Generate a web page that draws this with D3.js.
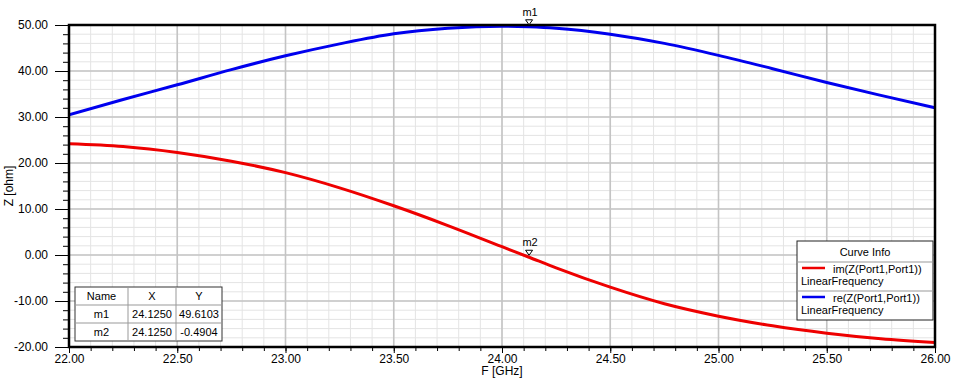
<!DOCTYPE html>
<html>
<head>
<meta charset="utf-8">
<script src="https://cdn.jsdelivr.net/npm/d3@7"></script>
<style>
  body { margin: 0; background: #fff; }
  svg { display: block; font-family: "Liberation Sans", Arial, sans-serif; }
  .grid-minor line { stroke: #e4e4e4; }
  .grid-major line { stroke: #c4c4c4; stroke-width: 1.6; }
  .axis text { font-size: 12px; fill: #000; }
  .axis line { stroke: #000; }
  .axis path { display: none; }
</style>
</head>
<body>
<svg id="chart" width="953" height="382"></svg>
<script>
// frequency sweep (GHz)
const freq = [22.00, 22.25, 22.50, 22.75, 23.00, 23.25, 23.50, 23.75, 24.00, 24.125,
              24.25, 24.50, 24.75, 25.00, 25.25, 25.50, 25.75, 26.00];
// re(Z(Port1,Port1)) in ohm
const reZ = [30.5, 33.8, 37.0, 40.3, 43.3, 45.9, 48.1, 49.3, 49.75, 49.61,
             49.3, 48.0, 46.0, 43.4, 40.5, 37.5, 34.7, 32.0];
// im(Z(Port1,Port1)) in ohm
const imZ = [24.2, 23.6, 22.3, 20.4, 17.9, 14.6, 10.7, 6.4, 1.8, -0.4904,
             -2.8, -7.0, -10.6, -13.3, -15.4, -17.0, -18.2, -19.0];

const series = [
  {name: "im(Z(Port1,Port1))", sweep: "LinearFrequency", values: imZ, color: "#ee0000"},
  {name: "re(Z(Port1,Port1))", sweep: "LinearFrequency", values: reZ, color: "#0000ee"}
];

const markerNames = ["m1", "m2"];
const markerX = [24.1250, 24.1250];
const markerY = [49.6103, -0.4904];

const xTickMajor = [22.0, 22.5, 23.0, 23.5, 24.0, 24.5, 25.0, 25.5, 26.0];
const yTickMajor = [-20, -10, 0, 10, 20, 30, 40, 50];

const svg = d3.select("#chart");
const W = +svg.attr("width"), H = +svg.attr("height");
const plot = {left: 69, top: 25, right: 935, bottom: 347};

const x = d3.scaleLinear().domain([22, 26]).range([plot.left, plot.right]);
const y = d3.scaleLinear().domain([-20, 50]).range([plot.bottom, plot.top]);

const xMinor = d3.range(0, 41).map(i => 22 + i * 0.1);
const yMinor = d3.range(0, 36).map(i => -20 + i * 2);

svg.append("rect").attr("width", W).attr("height", H).attr("fill", "#fff");

// grid
const gMinor = svg.append("g").attr("class", "grid-minor");
gMinor.selectAll(".vx").data(xMinor).enter().append("line")
  .attr("x1", d => x(d)).attr("x2", d => x(d))
  .attr("y1", plot.top).attr("y2", plot.bottom);
gMinor.selectAll(".hy").data(yMinor).enter().append("line")
  .attr("y1", d => y(d)).attr("y2", d => y(d))
  .attr("x1", plot.left).attr("x2", plot.right);

const gMajor = svg.append("g").attr("class", "grid-major");
gMajor.selectAll(".vx").data(xTickMajor).enter().append("line")
  .attr("x1", d => x(d)).attr("x2", d => x(d))
  .attr("y1", plot.top).attr("y2", plot.bottom);
gMajor.selectAll(".hy").data(yTickMajor).enter().append("line")
  .attr("y1", d => y(d)).attr("y2", d => y(d))
  .attr("x1", plot.left).attr("x2", plot.right);

// axes
const fmt = d => d.toFixed(2);
svg.append("g").attr("class", "axis")
  .attr("transform", `translate(${plot.left},0)`)
  .call(d3.axisLeft(y).tickValues(yMinor).tickSize(6).tickFormat(""));
svg.append("g").attr("class", "axis")
  .attr("transform", `translate(${plot.left},0)`)
  .call(d3.axisLeft(y).tickValues(yTickMajor).tickSize(14).tickPadding(7).tickFormat(fmt));
svg.append("g").attr("class", "axis")
  .attr("transform", `translate(0,${plot.bottom})`)
  .call(d3.axisBottom(x).tickValues(xMinor).tickSize(4).tickFormat(""));
svg.append("g").attr("class", "axis")
  .attr("transform", `translate(0,${plot.bottom})`)
  .call(d3.axisBottom(x).tickValues(xTickMajor).tickSize(6).tickPadding(1).tickFormat(fmt));

svg.append("text")
  .attr("x", (plot.left + plot.right) / 2).attr("y", 375)
  .attr("text-anchor", "middle").attr("font-size", 12)
  .text("F [GHz]");
svg.append("text")
  .attr("transform", `translate(13,${(plot.top + plot.bottom) / 2}) rotate(-90)`)
  .attr("text-anchor", "middle").attr("font-size", 12)
  .text("Z [ohm]");

// curves
svg.append("clipPath").attr("id", "clip")
  .append("rect").attr("x", plot.left).attr("y", plot.top - 2)
  .attr("width", plot.right - plot.left).attr("height", plot.bottom - plot.top + 2);

const line = d3.line().curve(d3.curveMonotoneX);
svg.append("g").attr("clip-path", "url(#clip)")
  .selectAll("path").data(series).enter().append("path")
  .attr("fill", "none")
  .attr("stroke", d => d.color)
  .attr("stroke-width", 3)
  .attr("d", d => line(freq.map((f, i) => [x(f), y(d.values[i])])));

// frame
svg.append("rect")
  .attr("x", plot.left).attr("y", plot.top)
  .attr("width", plot.right - plot.left).attr("height", plot.bottom - plot.top)
  .attr("fill", "none").attr("stroke", "#000").attr("stroke-width", 2.5);

// markers
const mk = svg.append("g");
markerNames.forEach((m, i) => {
  const px = x(markerX[i]), py = y(markerY[i]) - 2;
  mk.append("path")
    .attr("d", `M${px - 3.5},${py - 5} L${px + 3.5},${py - 5} L${px},${py} Z`)
    .attr("fill", "#fff").attr("stroke", "#000").attr("stroke-width", 1);
  mk.append("text")
    .attr("x", px + 1).attr("y", py - 9)
    .attr("text-anchor", "middle").attr("font-size", 11)
    .text(m);
});

// marker table
const tbl = {left: 75, top: 287, cols: [53, 48, 46], rowH: 18};
const tableRows = [["Name", "X", "Y"]].concat(
  markerNames.map((m, i) => [m, markerX[i].toFixed(4), markerY[i].toFixed(4)]));
const tg = svg.append("g");
const tW = d3.sum(tbl.cols), tH = tbl.rowH * tableRows.length;
tg.append("rect").attr("x", tbl.left).attr("y", tbl.top)
  .attr("width", tW).attr("height", tH)
  .attr("fill", "#fff").attr("stroke", "#333").attr("stroke-width", 1);
const colX = d3.cumsum([0].concat(tbl.cols));
colX.slice(1, -1).forEach(cx => {
  tg.append("line").attr("x1", tbl.left + cx).attr("x2", tbl.left + cx)
    .attr("y1", tbl.top).attr("y2", tbl.top + tH).attr("stroke", "#999");
});
d3.range(1, tableRows.length).forEach(r => {
  tg.append("line").attr("x1", tbl.left).attr("x2", tbl.left + tW)
    .attr("y1", tbl.top + r * tbl.rowH).attr("y2", tbl.top + r * tbl.rowH).attr("stroke", "#999");
});
tableRows.forEach((row, r) => {
  row.forEach((cell, c) => {
    tg.append("text")
      .attr("x", tbl.left + colX[c] + tbl.cols[c] / 2)
      .attr("y", tbl.top + r * tbl.rowH + 13)
      .attr("text-anchor", "middle").attr("font-size", 11)
      .text(cell);
  });
});

// legend (Curve Info)
const lg = {left: 797, top: 241, width: 136, headH: 21, rowH: 29};
const leg = svg.append("g");
leg.append("rect").attr("x", lg.left).attr("y", lg.top)
  .attr("width", lg.width).attr("height", lg.headH + lg.rowH * series.length)
  .attr("fill", "#fff").attr("stroke", "#222");
leg.append("text").attr("x", lg.left + lg.width / 2).attr("y", lg.top + 15)
  .attr("text-anchor", "middle").attr("font-size", 11).text("Curve Info");
series.forEach((s, i) => {
  const ty = lg.top + lg.headH + i * lg.rowH;
  leg.append("line").attr("x1", lg.left).attr("x2", lg.left + lg.width)
    .attr("y1", ty).attr("y2", ty).attr("stroke", "#999");
  leg.append("line").attr("x1", lg.left + 5).attr("x2", lg.left + 28)
    .attr("y1", ty + 6).attr("y2", ty + 6)
    .attr("stroke", s.color).attr("stroke-width", 2.5);
  leg.append("text").attr("x", lg.left + 36).attr("y", ty + 11)
    .attr("font-size", 11).text(s.name);
  leg.append("text").attr("x", lg.left + 4).attr("y", ty + 23)
    .attr("font-size", 11).text(s.sweep);
});
</script>
</body>
</html>
